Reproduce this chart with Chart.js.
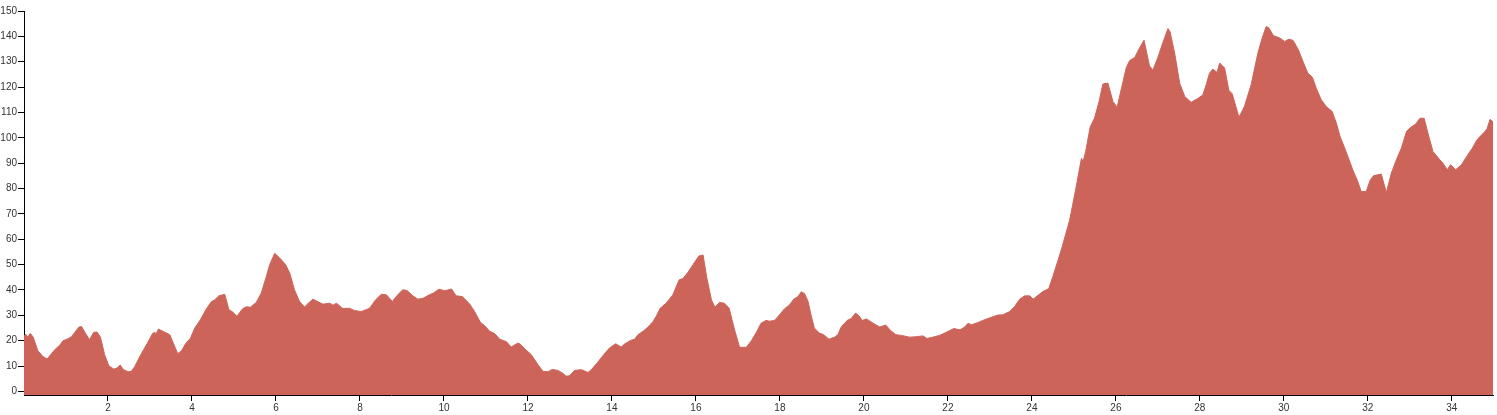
<!DOCTYPE html>
<html>
<head>
<meta charset="utf-8">
<script src="https://cdn.jsdelivr.net/npm/chart.js@4.4.1/dist/chart.umd.min.js"></script>
<style>
  html, body { margin: 0; padding: 0; background: #fff; }
  #wrap { width: 1497px; height: 415px; }
</style>
</head>
<body>
<div id="wrap"><canvas id="elevationChart"></canvas></div>
<script>
const distance = [
  0.0, 0.04, 0.09, 0.15, 0.22, 0.33, 0.45, 0.55, 0.65, 0.73, 0.85, 0.93, 1.05, 1.13, 1.21, 1.31, 1.37, 1.45, 1.56, 1.66,
  1.74, 1.82, 1.92, 2.02, 2.14, 2.22, 2.29, 2.37, 2.48, 2.56, 2.64, 2.74, 2.85, 2.95, 3.06, 3.11, 3.15, 3.2, 3.31, 3.47,
  3.56, 3.66, 3.75, 3.85, 3.96, 4.07, 4.2, 4.33, 4.46, 4.54, 4.64, 4.78, 4.88, 4.98, 5.07, 5.2, 5.29, 5.39, 5.53, 5.65,
  5.77, 5.85, 5.97, 6.09, 6.23, 6.33, 6.44, 6.56, 6.68, 6.79, 6.88, 7.0, 7.12, 7.28, 7.36, 7.44, 7.59, 7.75, 7.87, 8.03,
  8.23, 8.37, 8.51, 8.63, 8.77, 8.91, 9.02, 9.12, 9.26, 9.38, 9.5, 9.64, 9.75, 9.88, 10.02, 10.18, 10.29, 10.44, 10.61, 10.73,
  10.87, 10.97, 11.09, 11.21, 11.33, 11.49, 11.6, 11.76, 11.82, 11.95, 12.08, 12.24, 12.36, 12.48, 12.58, 12.71, 12.82, 12.91, 12.99, 13.11,
  13.27, 13.43, 13.51, 13.63, 13.79, 13.94, 14.09, 14.22, 14.3, 14.44, 14.54, 14.62, 14.74, 14.86, 14.98, 15.06, 15.15, 15.29, 15.45, 15.6,
  15.69, 15.81, 15.93, 16.07, 16.17, 16.26, 16.37, 16.45, 16.56, 16.68, 16.79, 16.92, 17.04, 17.2, 17.32, 17.44, 17.55, 17.67, 17.75, 17.87,
  17.99, 18.11, 18.22, 18.33, 18.43, 18.51, 18.59, 18.67, 18.74, 18.82, 18.94, 19.04, 19.17, 19.3, 19.38, 19.46, 19.6, 19.7, 19.8, 19.88,
  19.96, 20.06, 20.22, 20.38, 20.52, 20.63, 20.76, 20.89, 21.09, 21.25, 21.41, 21.5, 21.64, 21.8, 21.96, 22.14, 22.29, 22.4, 22.48, 22.56,
  22.72, 22.83, 22.99, 23.19, 23.31, 23.47, 23.59, 23.71, 23.83, 23.95, 24.03, 24.26, 24.4, 24.5, 24.7, 24.9, 25.04, 25.18, 25.22, 25.28,
  25.39, 25.49, 25.6, 25.69, 25.81, 25.93, 26.03, 26.13, 26.25, 26.33, 26.45, 26.55, 26.67, 26.8, 26.88, 27.0, 27.12, 27.24, 27.29, 27.4,
  27.52, 27.64, 27.79, 27.95, 28.07, 28.15, 28.23, 28.31, 28.41, 28.47, 28.59, 28.69, 28.77, 28.93, 29.06, 29.22, 29.38, 29.48, 29.58, 29.64,
  29.75, 29.9, 30.02, 30.12, 30.22, 30.34, 30.47, 30.57, 30.68, 30.77, 30.89, 31.01, 31.15, 31.25, 31.34, 31.48, 31.64, 31.76, 31.84, 31.96,
  32.06, 32.14, 32.32, 32.44, 32.56, 32.68, 32.8, 32.92, 33.04, 33.14, 33.24, 33.34, 33.43, 33.55, 33.7, 33.79, 33.89, 33.97, 34.09, 34.23,
  34.36, 34.49, 34.6, 34.71, 34.79, 34.84, 34.91, 34.98
];

const elevation = [
  21.9, 22.6, 21.4, 22.9, 21.4, 16.0, 13.8, 12.8, 14.8, 16.4, 18.2, 20.0, 20.8, 21.6, 23.3, 25.4, 25.6, 23.3, 20.4, 23.3,
  23.4, 21.4, 14.5, 10.1, 8.8, 9.3, 10.4, 8.6, 7.8, 8.0, 9.9, 13.2, 16.5, 19.4, 22.8, 23.3, 22.7, 24.6, 23.7, 22.4,
  18.9, 14.9, 16.0, 18.9, 20.9, 25.1, 28.3, 32.2, 35.4, 36.1, 37.7, 38.3, 32.2, 31.2, 29.6, 32.5, 33.4, 33.2, 35.1, 38.8,
  45.3, 50.0, 54.5, 52.6, 50.0, 46.6, 40.1, 35.5, 33.3, 35.1, 36.4, 35.4, 34.4, 34.8, 34.0, 34.8, 32.7, 32.8, 31.9, 31.5,
  32.8, 36.1, 38.3, 38.1, 35.5, 38.3, 40.1, 39.8, 37.7, 36.4, 36.7, 38.0, 38.8, 40.3, 39.7, 40.4, 37.7, 37.4, 34.5, 31.5,
  27.2, 25.9, 23.7, 22.8, 20.6, 19.6, 17.5, 19.1, 18.6, 16.4, 14.5, 10.5, 7.9, 7.8, 8.7, 8.3, 7.3, 6.0, 6.2, 8.3,
  8.6, 7.5, 8.6, 10.9, 14.2, 17.1, 18.8, 17.5, 18.7, 20.1, 20.6, 22.4, 23.7, 25.4, 27.6, 29.8, 32.8, 34.8, 38.1, 44.0,
  44.5, 47.0, 50.0, 53.4, 53.8, 44.7, 36.1, 33.2, 35.1, 34.8, 32.8, 24.3, 17.4, 17.4, 20.0, 23.3, 26.9, 28.0, 27.7, 28.0,
  30.2, 32.6, 34.0, 36.4, 37.4, 39.3, 38.5, 35.5, 30.2, 25.0, 23.0, 22.4, 20.6, 21.4, 22.4, 25.4, 28.0, 28.8, 30.9, 29.9,
  28.0, 28.6, 26.9, 25.4, 26.2, 24.1, 22.4, 22.1, 21.4, 21.6, 21.9, 20.9, 21.4, 22.1, 23.3, 24.8, 24.3, 25.4, 26.9, 26.3,
  27.2, 28.0, 29.0, 30.1, 30.2, 31.5, 33.5, 36.4, 37.7, 37.7, 36.4, 39.4, 40.5, 45.3, 55.8, 67.6, 79.4, 91.9, 90.7, 94.6,
  104.4, 107.7, 114.3, 121.2, 121.6, 114.3, 112.1, 119.3, 127.8, 130.5, 131.7, 135.0, 138.5, 128.4, 126.7, 131.7, 137.6, 143.1, 141.8, 133.3,
  121.5, 116.3, 114.0, 115.5, 116.9, 120.9, 125.5, 127.1, 125.8, 129.5, 127.5, 118.7, 117.4, 108.1, 112.3, 120.9, 133.3, 139.2, 143.9, 143.4,
  140.3, 139.4, 138.0, 138.9, 138.4, 134.9, 129.5, 125.5, 123.9, 119.6, 115.0, 112.3, 110.4, 105.8, 100.5, 94.6, 87.4, 82.8, 78.8, 78.8,
  83.5, 85.1, 85.7, 78.4, 86.1, 91.4, 96.0, 102.5, 104.4, 105.4, 107.7, 107.7, 101.9, 94.6, 91.6, 90.0, 87.4, 89.4, 87.4, 89.4,
  92.8, 96.0, 99.2, 101.2, 102.5, 103.7, 107.3, 106.3
];

const xTicks = [2, 4, 6, 8, 10, 12, 14, 16, 18, 20, 22, 24, 26, 28, 30, 32, 34];
const yTicks = [0, 10, 20, 30, 40, 50, 60, 70, 80, 90, 100, 110, 120, 130, 140, 150];

const points = distance.map((d, i) => ({ x: d, y: elevation[i] }));

const tickFont = { family: 'Arial, "Liberation Sans", sans-serif', size: 10 };

const ctx = document.getElementById('elevationChart').getContext('2d');
new Chart(ctx, {
  type: 'line',
  data: {
    datasets: [{
      data: points,
      borderColor: '#cd645a',
      borderWidth: 1,
      backgroundColor: '#cd645a',
      fill: 'start',
      pointRadius: 0,
      tension: 0
    }]
  },
  options: {
    responsive: true,
    maintainAspectRatio: false,
    animation: false,
    layout: { padding: { top: 11, right: 4, left: 0, bottom: 0 } },
    plugins: { legend: { display: false }, tooltip: { enabled: false } },
    scales: {
      x: {
        type: 'linear',
        min: 0,
        max: 34.98,
        afterBuildTicks: scale => { scale.ticks = xTicks.map(v => ({ value: v })); },
        afterFit: scale => { scale.height = 20; },
        grid: { drawOnChartArea: false, drawTicks: true, tickLength: 6, color: '#000' },
        border: { color: '#000', width: 1 },
        ticks: { color: '#333', font: tickFont, padding: 1, maxRotation: 0, autoSkip: false }
      },
      y: {
        min: -1.4,
        max: 150,
        afterBuildTicks: scale => { scale.ticks = yTicks.map(v => ({ value: v })); },
        afterFit: scale => { scale.width = 24; },
        grid: { drawOnChartArea: false, drawTicks: true, tickLength: 6, color: '#000' },
        border: { color: '#000', width: 1 },
        ticks: { color: '#333', font: tickFont, padding: 1, autoSkip: false }
      }
    }
  }
});
</script>
</body>
</html>
